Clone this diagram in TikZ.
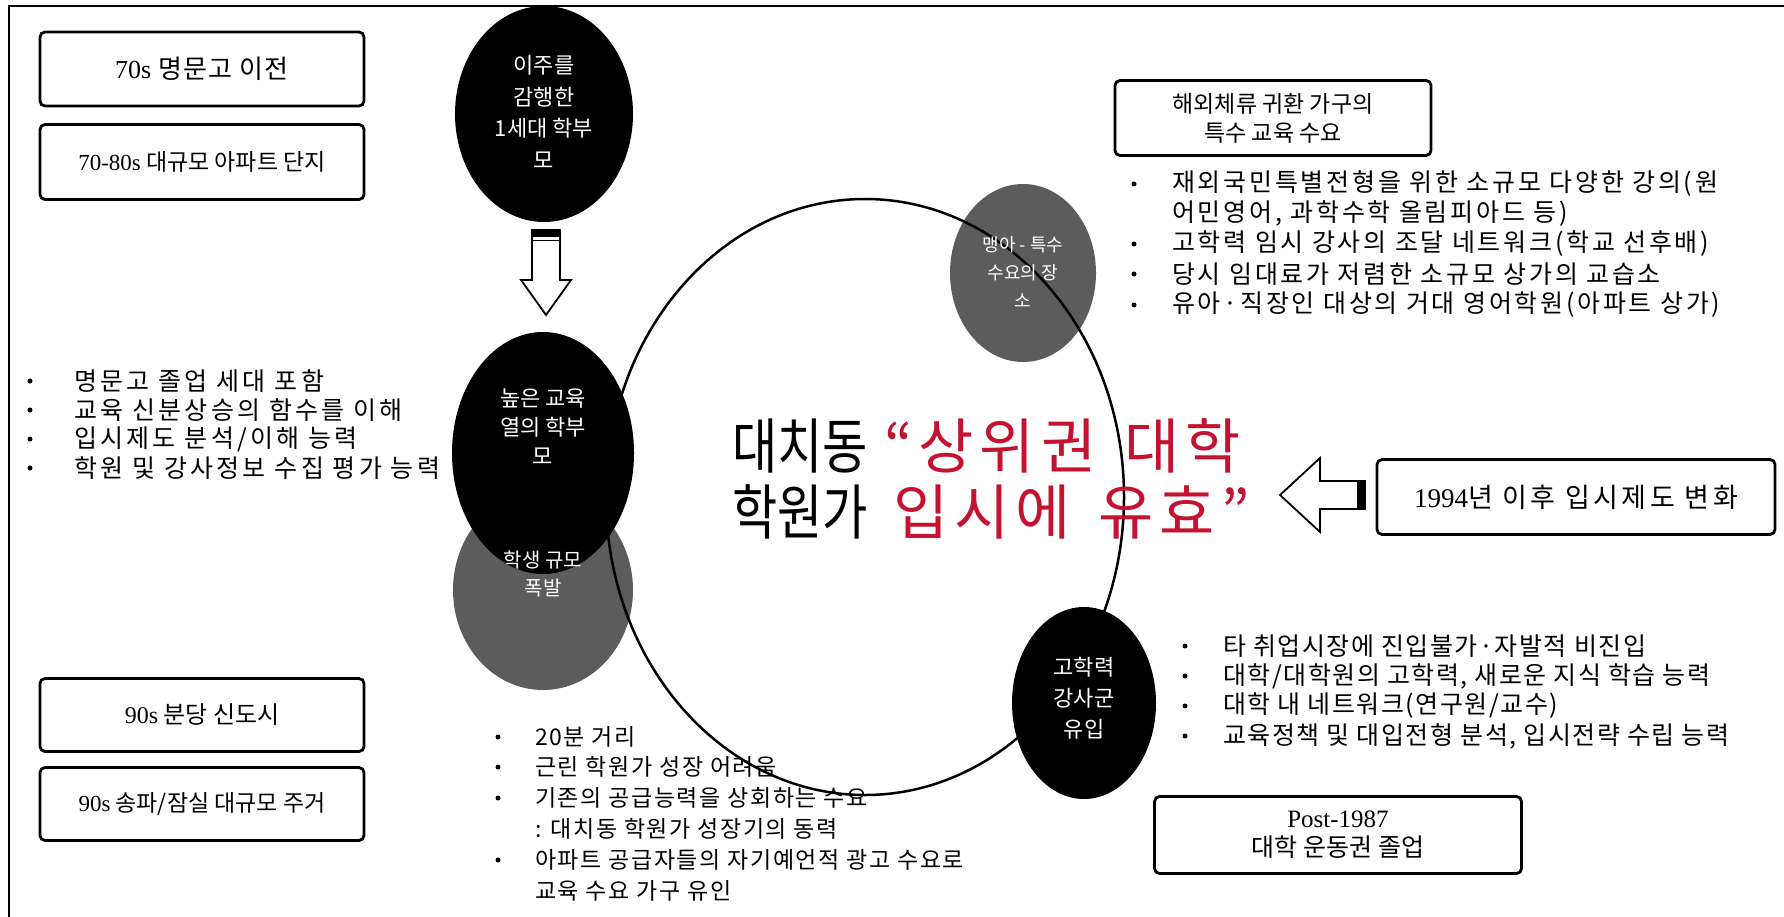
\documentclass[tikz,border=0pt]{standalone}
\usepackage{fontspec}
\setmainfont{Liberation Serif}
\newfontfamily\kr{Noto Sans CJK KR}
\newfontfamily\latf{Liberation Serif}
\newcommand\kfs[1]{\kr\fontsize{#1}{#1}\selectfont}
\newcommand\kls[2]{\kr\fontsize{#1}{#1}\selectfont\addfontfeature{LetterSpace=#2}}
\usetikzlibrary{shapes.geometric}
\definecolor{crim}{RGB}{196,18,48}
\definecolor{gcirc}{RGB}{92,92,92}
\begin{document}
\begin{tikzpicture}[x=1pt,y=-1pt,
  boxst/.style={draw, line width=2.8pt, rounded corners=5pt, fill=white, align=center, inner sep=0pt},
  blackov/.style={ellipse, fill=black, inner sep=0pt},
  greyov/.style={ellipse, fill=gcirc, inner sep=0pt},
  ctext/.style={text=white, align=center, inner sep=0pt},
  btxt/.style={anchor=west, inner sep=0pt},
  rtl/.style={btxt, font=\kls{25}{11}},
  ltl/.style={btxt, font=\kls{25}{13}},
  bbl/.style={btxt, font=\kls{23}{7}},
  rbl/.style={btxt, font=\kls{25}{6}},
  bdot/.style={circle, fill=black, inner sep=0pt, minimum size=5pt},
  hollow/.style={draw, line width=1.8pt, fill=white}]
\useasboundingbox (0,0) rectangle (1784,917);
\fill[white] (0,0) rectangle (1784,917);
\draw[line width=1.5pt] (9,917) -- (9,6) -- (1784,6);

% grey circles
\node[greyov, minimum width=146pt, minimum height=178pt] (g1) at (1023,273) {};
\node[greyov, minimum width=180pt, minimum height=200pt] (g2) at (543,590) {};
% big circle
\node[ellipse, draw, line width=2.5pt, inner sep=0pt, minimum width=518pt, minimum height=596pt] (bigc) at (865,497) {};
% black circles
\node[blackov, minimum width=178pt, minimum height=216pt] (c1) at (544,114) {};
\node[blackov, minimum width=182pt, minimum height=242pt] (c2) at (543,453) {};
\node[blackov, minimum width=144pt, minimum height=192pt] (c3) at (1084,703) {};

% circle texts
\node[ctext, font=\kfs{22}] (t1a) at (544,65) {이주를};
\node[ctext, font=\kfs{22}] (t1b) at (544,97) {감행한};
\node[ctext, font=\kfs{22}] (t1c) at (544,128) {1세대 학부};
\node[ctext, font=\kfs{22}] (t1d) at (544,160) {모};
\node[ctext, font=\kfs{22}] (t2a) at (543,398) {높은 교육};
\node[ctext, font=\kfs{22}] (t2b) at (543,427) {열의 학부};
\node[ctext, font=\kfs{22}] (t2c) at (543,456) {모};
\node[ctext, font=\kfs{20}] (t3a) at (543,560) {학생 규모};
\node[ctext, font=\kfs{20}] (t3b) at (543,588) {폭발};
\node[ctext, font=\kfs{18}] (t4a) at (1023,245) {맹아 - 특수};
\node[ctext, font=\kfs{18}] (t4b) at (1023,273) {수요의 장};
\node[ctext, font=\kfs{18}] (t4c) at (1023,301) {소};
\node[ctext, font=\kfs{22}] (t5a) at (1084,667) {고학력};
\node[ctext, font=\kfs{22}] (t5b) at (1084,698) {강사군};
\node[ctext, font=\kfs{22}] (t5c) at (1084,729) {유입};

% hollow arrows
\draw[hollow] (532,230) -- (560,230) -- (560,280) -- (571,280) -- (546,315) -- (521,280) -- (532,280) -- cycle;
\fill (532,230) rectangle (560,237);
\draw[line width=1pt] (532,241) -- (560,241);
\draw[hollow] (1365,481) -- (1365,509) -- (1320,509) -- (1320,532) -- (1280,495) -- (1320,458) -- (1320,481) -- cycle;
\fill (1357,481) rectangle (1365,509);

% center text
\node[btxt, font=\kfs{60}, xscale=0.82, transform shape] (m1) at (732,446) {대치동};
\node[btxt, font=\kls{60}{10}, text=crim] (m2) at (884,446) {“상위권\hspace{28pt}대학};
\node[btxt, font=\kfs{60}, xscale=0.82, transform shape] (m3) at (732,512) {학원가};
\node[btxt, font=\kls{60}{10}, text=crim] (m4) at (893,512) {입시에\hspace{28pt}유효”};

% boxes
\node[boxst, minimum width=324pt, minimum height=74pt, font=\kls{26}{5}] (b1) at (202,69) {{\latf 70s} 명문고 이전};
\node[boxst, minimum width=324pt, minimum height=75pt, font=\kfs{23}] (b2) at (202,162) {{\latf 70-80s} 대규모 아파트 단지};
\node[boxst, minimum width=316pt, minimum height=75pt, font=\kfs{23}] (b3) at (1273,118) {해외체류 귀환 가구의\\[6pt]특수 교육 수요};
\node[boxst, minimum width=398pt, minimum height=75pt, font=\kls{27}{13}] (b4) at (1576,497) {{\latf 1994}년 이후 입시제도 변화};
\node[boxst, minimum width=324pt, minimum height=73pt, font=\kfs{24}] (b5) at (202,715) {{\latf 90s} 분당 신도시};
\node[boxst, minimum width=324pt, minimum height=73pt, font=\kfs{23}] (b6) at (202,804) {{\latf 90s} 송파/잠실 대규모 주거};
\node[boxst, minimum width=367pt, minimum height=77pt, font=\kfs{25}] (b7) at (1338,835) {{\latf Post-1987}\\[4pt]대학 운동권 졸업};

% right-top bullets
\node[bdot] (d1) at (1134,184) {};
\node[rtl] (r1) at (1172,184) {재외국민특별전형을 위한 소규모 다양한 강의(원};
\node[rtl] (r2) at (1172,214) {어민영어, 과학수학 올림피아드 등)};
\node[bdot] (d2) at (1134,244) {};
\node[rtl] (r3) at (1172,244) {고학력 임시 강사의 조달 네트워크(학교 선후배)};
\node[bdot] (d3) at (1134,274) {};
\node[rtl] (r4) at (1172,274) {당시 임대료가 저렴한 소규모 상가의 교습소};
\node[bdot] (d4) at (1134,305) {};
\node[rtl] (r5) at (1172,305) {유아·직장인 대상의 거대 영어학원(아파트 상가)};

% left bullets
\node[bdot] (d5) at (30,381) {};
\node[ltl] (l1) at (74,381) {명문고 졸업 세대 포함};
\node[bdot] (d6) at (30,410) {};
\node[ltl] (l2) at (74,410) {교육 신분상승의 함수를 이해};
\node[bdot] (d7) at (30,439) {};
\node[ltl] (l3) at (74,439) {입시제도 분석/이해 능력};
\node[bdot] (d8) at (30,468) {};
\node[ltl] (l4) at (74,468) {학원 및 강사정보 수집 평가 능력};

% bottom bullets
\node[bdot] (d9) at (498,737) {};
\node[bbl] (s1) at (535,737) {20분 거리};
\node[bdot] (d10) at (498,767) {};
\node[bbl] (s2) at (535,767) {근린 학원가 성장 어려움};
\node[bdot] (d11) at (498,798) {};
\node[bbl] (s3) at (535,798) {기존의 공급능력을 상회하는 수요};
\node[bbl] (s4) at (535,829) {: 대치동 학원가 성장기의 동력};
\node[bdot] (d12) at (498,860) {};
\node[bbl] (s5) at (535,860) {아파트 공급자들의 자기예언적 광고 수요로};
\node[bbl] (s6) at (535,891) {교육 수요 가구 유인};

% right-bottom bullets
\node[bdot] (d13) at (1185,646) {};
\node[rbl] (q1) at (1223,646) {타 취업시장에 진입불가·자발적 비진입};
\node[bdot] (d14) at (1185,676) {};
\node[rbl] (q2) at (1223,676) {대학/대학원의 고학력, 새로운 지식 학습 능력};
\node[bdot] (d15) at (1185,706) {};
\node[rbl] (q3) at (1223,706) {대학 내 네트워크(연구원/교수)};
\node[bdot] (d16) at (1185,736) {};
\node[rbl] (q4) at (1223,736) {교육정책 및 대입전형 분석, 입시전략 수립 능력};
\end{tikzpicture}
\end{document}
